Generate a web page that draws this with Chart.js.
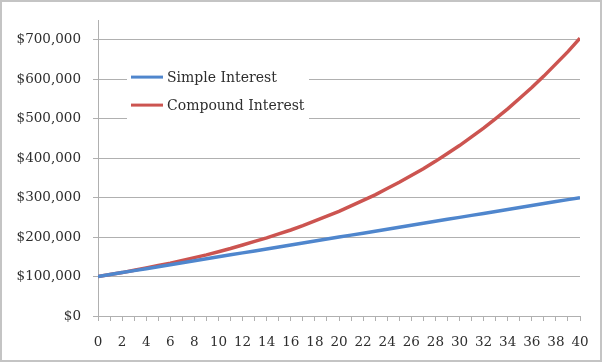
<!DOCTYPE html>
<html>
<head>
<meta charset="utf-8">
<script src="https://cdn.jsdelivr.net/npm/chart.js@4/dist/chart.umd.min.js"></script>
<style>
    body { margin: 0; background: #fff; }
    canvas { display: block; }
</style>
</head>
<body>
<canvas id="interestChart" width="602" height="362"></canvas>
<script>
const years = [0, 1, 2, 3, 4, 5, 6, 7, 8, 9, 10, 11, 12, 13, 14, 15, 16, 17, 18, 19, 20,
    21, 22, 23, 24, 25, 26, 27, 28, 29, 30, 31, 32, 33, 34, 35, 36, 37, 38, 39, 40];

const simpleInterest = [100000, 105000, 110000, 115000, 120000, 125000, 130000, 135000, 140000, 145000,
    150000, 155000, 160000, 165000, 170000, 175000, 180000, 185000, 190000, 195000,
    200000, 205000, 210000, 215000, 220000, 225000, 230000, 235000, 240000, 245000,
    250000, 255000, 260000, 265000, 270000, 275000, 280000, 285000, 290000, 295000, 300000];

const compoundInterest = [100000, 105000, 110000, 116000, 122000, 128000, 134000, 141000, 148000, 155000,
    163000, 171000, 180000, 189000, 198000, 208000, 218000, 229000, 241000, 253000,
    265000, 279000, 293000, 307000, 323000, 339000, 356000, 373000, 392000, 412000,
    432000, 454000, 476000, 500000, 525000, 552000, 579000, 608000, 639000, 670000, 704000];

const yTickValues = [0, 100000, 200000, 300000, 400000, 500000, 600000, 700000];

const seriesLabels = ['Simple Interest', 'Compound Interest'];

const gridGray = '#b0b0b0';
const textColor = '#2e2e2e';
const fontFamily = '"DejaVu Serif", serif';

// white frame + grey outline round the whole picture
const framePlugin = {
    id: 'frame',
    beforeDraw(chart) {
        const ctx = chart.ctx;
        ctx.save();
        ctx.fillStyle = '#ffffff';
        ctx.fillRect(0, 0, chart.width, chart.height);
        ctx.strokeStyle = '#c4c4c4';
        ctx.lineWidth = 2;
        ctx.strokeRect(1, 1, chart.width - 2, chart.height - 2);
        ctx.restore();
    }
};

// legend sitting inside the plot, on a white box over the gridlines
const insideLegend = {
    id: 'insideLegend',
    afterDatasetsDraw(chart) {
        const ctx = chart.ctx;
        const area = chart.chartArea;
        const x0 = area.left + 29;
        const y0 = area.top + 43;
        ctx.save();
        ctx.fillStyle = '#ffffff';
        ctx.fillRect(x0, y0, 182, 56);
        ctx.font = '14px ' + fontFamily;
        ctx.textBaseline = 'middle';
        chart.data.datasets.forEach(function(ds, i) {
            const y = y0 + 14 + i * 28;
            ctx.strokeStyle = ds.borderColor;
            ctx.lineWidth = 3;
            ctx.beginPath();
            ctx.moveTo(x0 + 4, y);
            ctx.lineTo(x0 + 36, y);
            ctx.stroke();
            ctx.fillStyle = textColor;
            ctx.fillText(ds.label, x0 + 40, y + 1);
        });
        ctx.restore();
    }
};

new Chart(document.getElementById('interestChart'), {
    type: 'line',
    data: {
        labels: years,
        datasets: [
            {
                label: seriesLabels[0],
                data: years.map((x, i) => ({ x: x, y: simpleInterest[i] })),
                borderColor: '#4f86cd',
                borderWidth: 3.5,
                pointRadius: 0,
                fill: false
            },
            {
                label: seriesLabels[1],
                data: years.map((x, i) => ({ x: x, y: compoundInterest[i] })),
                borderColor: '#cc5450',
                borderWidth: 3.5,
                pointRadius: 0,
                fill: false
            }
        ]
    },
    options: {
        responsive: false,
        animation: false,
        devicePixelRatio: 1,
        layout: {
            padding: { top: 19, right: 22, bottom: 0, left: 0 }
        },
        plugins: {
            legend: { display: false },
            tooltip: { enabled: false }
        },
        scales: {
            x: {
                type: 'linear',
                min: 0,
                max: 40,
                afterFit(scale) { scale.height = 46; },
                grid: {
                    drawOnChartArea: false,
                    drawTicks: true,
                    tickLength: 5,
                    color: gridGray
                },
                border: { color: gridGray, width: 1 },
                ticks: {
                    stepSize: 1,
                    autoSkip: false,
                    maxRotation: 0,
                    padding: 13,
                    color: textColor,
                    font: { family: fontFamily, size: 13.5 },
                    callback: function(v) { return v % 2 === 0 ? String(v) : ''; }
                }
            },
            y: {
                min: 0,
                max: 750000,
                afterFit(scale) { scale.width = 98; },
                afterBuildTicks(scale) {
                    scale.ticks = yTickValues.map(v => ({ value: v }));
                },
                grid: {
                    color: gridGray,
                    tickLength: 5
                },
                border: { color: gridGray, width: 1 },
                ticks: {
                    padding: 12,
                    color: textColor,
                    font: { family: fontFamily, size: 13.5 },
                    callback: function(v) { return '$' + Number(v).toLocaleString('en-US'); }
                }
            }
        }
    },
    plugins: [framePlugin, insideLegend]
});
</script>
</body>
</html>
